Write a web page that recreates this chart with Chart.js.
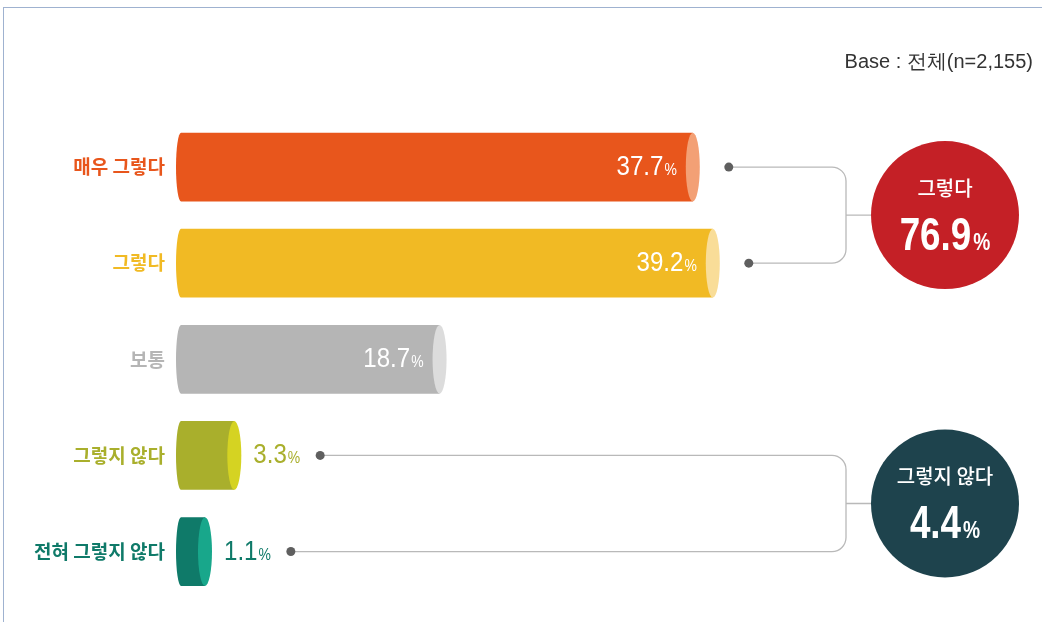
<!DOCTYPE html>
<html lang="ko">
<head>
<meta charset="utf-8">
<title>그렇다 / 그렇지 않다</title>
<script src="https://cdn.jsdelivr.net/npm/chart.js@4/dist/chart.umd.min.js"></script>
<style>
   html, body { margin: 0; padding: 0; background: #fff; }
   #wrap { position: relative; width: 1042px; height: 622px; overflow: hidden; }
   #frame {
      position: absolute; left: 3px; top: 7px; right: -2px; bottom: -2px;
      border-top: 1px solid #9fb2d0; border-left: 1px solid #9fb2d0;
      pointer-events: none;
   }
</style>
</head>
<body>
<div id="wrap">
   <canvas id="chart" width="1042" height="622"></canvas>
   <div id="frame"></div>
</div>
<script>
'use strict';

// data
const categories = ['매우 그렇다', '그렇다', '보통', '그렇지 않다', '전혀 그렇지 않다'];
const values = [37.7, 39.2, 18.7, 3.3, 1.1];
const bodyColors = ['#e8561c', '#f1ba24', '#b5b5b5', '#a9af2c', '#0f7a69'];
const capColors = ['#f3a075', '#f9dd98', '#dcdcdc', '#d5d322', '#18a78b'];
const groupLabels = ['그렇다', '그렇지 않다'];
const groupTotals = [76.9, 4.4];
const groupMembers = [[0, 1], [3, 4]];
const groupColors = ['#c42026', '#1e434d'];
const baseNote = 'Base : 전체(n=2,155)';

const SANS = '"Liberation Sans", Arial, sans-serif';
const KOREAN = '"Noto Sans CJK KR", "Noto Sans", sans-serif';

//No narrow font installed, so squeeze Liberation Sans sideways
function narrowWidth(ctx, text, font, sx) {
   ctx.font = font;
   return ctx.measureText(text).width * sx;
}

function narrowText(ctx, text, x, y, font, sx) {
   ctx.save();
   ctx.font = font;
   ctx.textAlign = 'left';
   ctx.textBaseline = 'alphabetic';
   ctx.translate(x, y);
   ctx.scale(sx, 1);
   ctx.fillText(text, 0, 0);
   ctx.restore();
}

//Draw "37.7%" style label, number big and percent sign small
function drawValue(ctx, v, x, y, alignRight, color) {
   const num = v.toFixed(1);
   const fNum = '28px ' + SANS, fPct = '17px ' + SANS;
   const numW = narrowWidth(ctx, num, fNum, 0.86);
   const pctW = narrowWidth(ctx, '%', fPct, 0.82);
   const start = alignRight ? x - numW - pctW - 1 : x;
   ctx.fillStyle = color;
   narrowText(ctx, num, start, y, fNum, 0.86);
   narrowText(ctx, '%', start + numW + 1, y, fPct, 0.82);
   return start + numW + 1 + pctW;
}

//Cylinder shaped bars on top of the chart.js bar elements
const cylinderPlugin = {
   id: 'cylinders',
   beforeDatasetDraw() {
      return false;
   },
   afterDatasetsDraw(chart) {
      const ctx = chart.ctx;
      const bars = chart.getDatasetMeta(0).data;
      const rx = 7, lrx = 5;
      chart.$dots = [];
      ctx.save();
      bars.forEach((bar, i) => {
         const p = bar.getProps(['x', 'y', 'base', 'height'], true);
         const top = p.y - p.height / 2, bottom = p.y + p.height / 2;
         const left = p.base, right = p.x;
         //body
         ctx.beginPath();
         ctx.moveTo(left + lrx, top);
         ctx.lineTo(right - rx, top);
         ctx.lineTo(right - rx, bottom);
         ctx.lineTo(left + lrx, bottom);
         ctx.ellipse(left + lrx, p.y, lrx, p.height / 2, 0, Math.PI / 2, Math.PI * 1.5);
         ctx.closePath();
         ctx.fillStyle = bodyColors[i];
         ctx.fill();
         //cap
         ctx.beginPath();
         ctx.ellipse(right - rx, p.y, rx, p.height / 2, 0, 0, Math.PI * 2);
         ctx.fillStyle = capColors[i];
         ctx.fill();
         //value label
         const inside = (right - left) > 150;
         let dotX;
         if (inside) {
            drawValue(ctx, values[i], right - rx * 2 - 9, p.y + 8, true, '#fff');
            dotX = right + 29;
         } else {
            const end = drawValue(ctx, values[i], right + 12, p.y + 8, false, bodyColors[i]);
            dotX = end + 20;
         }
         chart.$dots[i] = {x: dotX, y: p.y};
      });
      ctx.restore();
   },
   afterDraw(chart) {
      const ctx = chart.ctx;
      const vx = 846, cx = 945, R = 74, cr = 14;
      ctx.save();
      groupMembers.forEach((members, g) => {
         const a = chart.$dots[members[0]], b = chart.$dots[members[1]];
         const midY = (a.y + b.y) / 2;
         //bracket
         ctx.beginPath();
         ctx.moveTo(a.x, a.y);
         ctx.lineTo(vx - cr, a.y);
         ctx.arcTo(vx, a.y, vx, a.y + cr, cr);
         ctx.lineTo(vx, b.y - cr);
         ctx.arcTo(vx, b.y, vx - cr, b.y, cr);
         ctx.lineTo(b.x, b.y);
         ctx.moveTo(vx, midY);
         ctx.lineTo(cx - R, midY);
         ctx.strokeStyle = '#b9b9b9';
         ctx.lineWidth = 1.3;
         ctx.stroke();
         [a, b].forEach(d => {
            ctx.beginPath();
            ctx.arc(d.x, d.y, 4.5, 0, Math.PI * 2);
            ctx.fillStyle = '#5f5f5f';
            ctx.fill();
         });
         //total circle
         ctx.beginPath();
         ctx.arc(cx, midY, R, 0, Math.PI * 2);
         ctx.fillStyle = groupColors[g];
         ctx.fill();
         ctx.fillStyle = '#fff';
         ctx.textAlign = 'center';
         ctx.textBaseline = 'middle';
         ctx.font = '500 20px ' + KOREAN;
         ctx.fillText(groupLabels[g], cx, midY - 27);
         const num = groupTotals[g].toFixed(1);
         const fNum = 'bold 46px ' + SANS, fPct = 'bold 24px ' + SANS;
         const numW = narrowWidth(ctx, num, fNum, 0.8);
         const pctW = narrowWidth(ctx, '%', fPct, 0.8);
         const start = cx - (numW + pctW + 2) / 2;
         narrowText(ctx, num, start, midY + 35, fNum, 0.8);
         narrowText(ctx, '%', start + numW + 2, midY + 35, fPct, 0.8);
      });
      //base note
      ctx.fillStyle = '#333';
      const fNote = '20px ' + SANS;
      const noteW = narrowWidth(ctx, baseNote, fNote, 1);
      narrowText(ctx, baseNote, 1033 - noteW, 68, fNote, 1);
      ctx.restore();
   }
};

const chart = new Chart(document.getElementById('chart'), {
   type: 'bar',
   data: {
      labels: categories,
      datasets: [{
         data: values,
         base: -1.6,
         backgroundColor: bodyColors,
         barPercentage: 0.715,
         categoryPercentage: 1
      }]
   },
   options: {
      indexAxis: 'y',
      responsive: false,
      animation: false,
      layout: {padding: {top: 119, bottom: 20, left: 0, right: 45}},
      plugins: {legend: {display: false}, tooltip: {enabled: false}},
      scales: {
         x: {display: false, min: -1.6, max: 60},
         y: {
            grid: {display: false, drawTicks: false},
            border: {display: false},
            ticks: {
               padding: 11,
               color: c => bodyColors[c.index],
               font: {family: KOREAN, size: 19, weight: 'bold'}
            },
            afterFit: scale => { scale.width = 176; }
         }
      }
   },
   plugins: [cylinderPlugin]
});
</script>
</body>
</html>
